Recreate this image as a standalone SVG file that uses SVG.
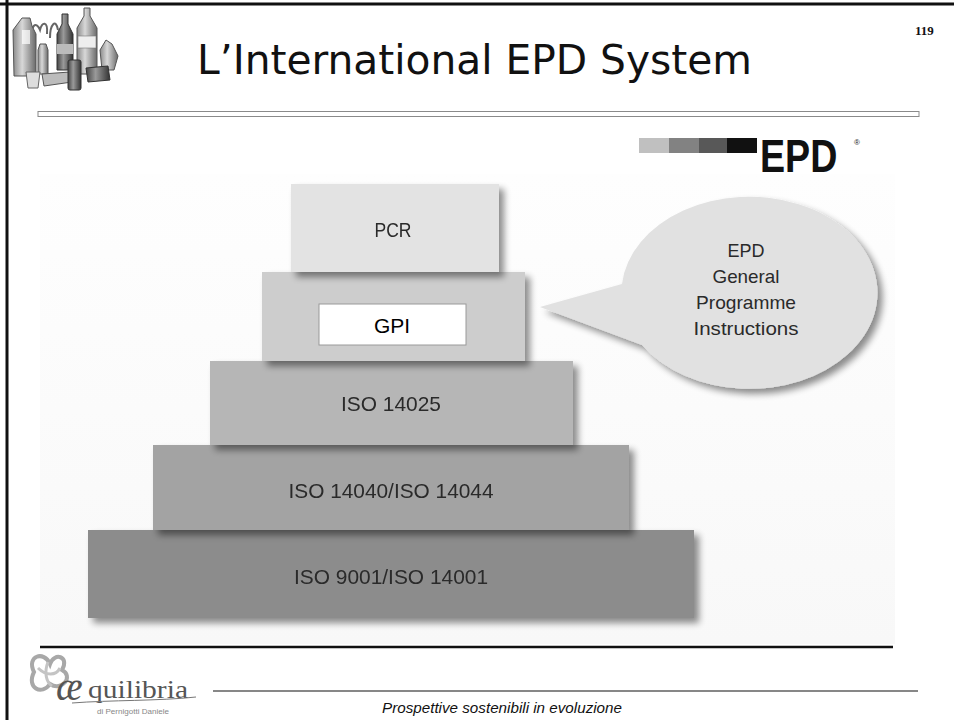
<svg xmlns="http://www.w3.org/2000/svg" width="954" height="720" viewBox="0 0 954 720">
  <defs>
    <style>
      .title { font-family: "DejaVu Sans", Verdana, sans-serif; font-size: 40px; fill: #111; }
      .lbl { font-family: "Liberation Sans Narrow", "Liberation Sans", Arial, sans-serif; font-size: 21px; fill: #2a2a2a; text-anchor: middle; }
      .bub { font-family: "Liberation Sans Narrow", "Liberation Sans", Arial, sans-serif; font-size: 19px; fill: #2a2a2a; text-anchor: middle; }
      .gpi { font-family: "Liberation Sans", Arial, sans-serif; font-size: 21px; fill: #000; text-anchor: middle; }
      .foot { font-family: "Liberation Sans", Arial, sans-serif; font-size: 15px; font-style: italic; fill: #111; }
      .block { stroke: none; }
    </style>
    <filter id="shadow" x="-10%" y="-10%" width="125%" height="130%">
      <feGaussianBlur in="SourceAlpha" stdDeviation="3.5"/>
      <feOffset dx="5" dy="5" result="b"/>
      <feComponentTransfer><feFuncA type="linear" slope="0.45"/></feComponentTransfer>
      <feMerge><feMergeNode/><feMergeNode in="SourceGraphic"/></feMerge>
    </filter>
    <linearGradient id="panel" x1="0" y1="0" x2="0" y2="1">
      <stop offset="0" stop-color="#fefefe"/>
      <stop offset="1" stop-color="#f8f8f8"/>
    </linearGradient>
    <linearGradient id="bottle" x1="0" y1="0" x2="1" y2="0">
      <stop offset="0" stop-color="#8a8a8a"/>
      <stop offset="0.4" stop-color="#d8d8d8"/>
      <stop offset="1" stop-color="#6a6a6a"/>
    </linearGradient>
    <linearGradient id="dark" x1="0" y1="0" x2="1" y2="0">
      <stop offset="0" stop-color="#444"/>
      <stop offset="0.4" stop-color="#9a9a9a"/>
      <stop offset="1" stop-color="#333"/>
    </linearGradient>
  </defs>

  <rect width="954" height="720" fill="#fff"/>

  <!-- page frame: top and left rules -->
  <line x1="0" y1="4" x2="954" y2="4" stroke="#111" stroke-width="3"/>
  <line x1="7" y1="0" x2="7" y2="720" stroke="#111" stroke-width="3"/>

  <!-- header clip-art: packaging waste -->
  <g id="clipart">
    <!-- plastic bag handles -->
    <path d="M32,40 C30,26 36,20 40,30 C42,22 48,20 47,34 M50,38 C50,24 56,18 58,30" fill="none" stroke="#666" stroke-width="2"/>
    <!-- detergent jug -->
    <path d="M13,30 L22,18 L30,18 L32,26 L36,34 L36,76 L14,76 Z" fill="url(#bottle)" stroke="#555" stroke-width="1"/>
    <path d="M22,30 L30,30 L30,44 L22,44 Z" fill="#fff" opacity="0.7"/>
    <!-- small bottle -->
    <path d="M38,50 L40,44 L46,44 L48,50 L48,74 L38,74 Z" fill="url(#bottle)" stroke="#555" stroke-width="1"/>
    <!-- tall dark bottle -->
    <path d="M62,14 L68,14 L68,24 L73,34 L73,70 L57,70 L57,34 L62,24 Z" fill="url(#dark)" stroke="#333" stroke-width="1"/>
    <rect x="57" y="44" width="16" height="10" fill="#bbb"/>
    <!-- large water bottle -->
    <path d="M84,8 L90,8 L90,16 L97,28 L97,74 L77,74 L77,28 L84,16 Z" fill="url(#bottle)" stroke="#555" stroke-width="1"/>
    <rect x="78" y="36" width="18" height="12" fill="#eee" stroke="#777" stroke-width="0.6"/>
    <!-- crushed bottle -->
    <path d="M100,50 L106,40 L112,44 L118,56 L114,70 L102,70 Z" fill="url(#bottle)" stroke="#555" stroke-width="1"/>
    <!-- cup -->
    <path d="M26,72 L40,72 L38,88 L28,88 Z" fill="#ddd" stroke="#666" stroke-width="1"/>
    <!-- food tray -->
    <path d="M42,74 L70,72 L72,82 L44,86 Z" fill="#bcbcbc" stroke="#555" stroke-width="1"/>
    <!-- drink can -->
    <rect x="68" y="60" width="13" height="30" rx="2" fill="url(#dark)" stroke="#333" stroke-width="1"/>
    <!-- tin can -->
    <path d="M86,68 L108,66 L110,80 L88,82 Z" fill="url(#dark)" stroke="#333" stroke-width="1"/>
  </g>

  <!-- title -->
  <text class="title" x="197" y="74" textLength="555" lengthAdjust="spacingAndGlyphs">L’International EPD System</text>
  <text x="915" y="35" font-family="'Liberation Serif', 'Times New Roman', serif" font-size="13" font-weight="bold" fill="#111">119</text>

  <!-- hollow separator bar -->
  <rect x="38" y="111.5" width="881" height="5" fill="#fff" stroke="#8a8a8a" stroke-width="1"/>

  <!-- EPD logo -->
  <g id="epd-logo">
    <rect x="639" y="138" width="30" height="15" fill="#c0c0c0"/>
    <rect x="669" y="138" width="30" height="15" fill="#828282"/>
    <rect x="699" y="138" width="28" height="15" fill="#585858"/>
    <rect x="727" y="138" width="30" height="15" fill="#111"/>
    <text transform="translate(760,172) scale(0.8,1)" font-family="'Liberation Sans', Arial, sans-serif" font-weight="bold" font-size="47" fill="#111">EPD</text>
    <text x="854" y="145" font-family="'Liberation Sans', Arial, sans-serif" font-size="8" fill="#222">®</text>
  </g>

  <!-- diagram backdrop -->
  <rect x="40" y="174" width="855" height="470" fill="url(#panel)"/>

  <!-- pyramid, base first so upper shadows fall on lower tiers -->
  <g id="iso-9001-14001" filter="url(#shadow)">
    <rect class="block" x="88" y="530" width="606" height="88" fill="#8c8c8c"/>
    <text class="lbl" x="391" y="584" textLength="194" lengthAdjust="spacingAndGlyphs">ISO 9001/ISO 14001</text>
  </g>
  <g id="iso-14040-14044" filter="url(#shadow)">
    <rect class="block" x="153" y="445" width="476" height="85" fill="#a3a3a3"/>
    <text class="lbl" x="391" y="498" textLength="205" lengthAdjust="spacingAndGlyphs">ISO 14040/ISO 14044</text>
  </g>
  <g id="iso-14025" filter="url(#shadow)">
    <rect class="block" x="210" y="361" width="363" height="84" fill="#b6b6b6"/>
    <text class="lbl" x="391" y="411" textLength="100" lengthAdjust="spacingAndGlyphs">ISO 14025</text>
  </g>
  <g id="gpi" filter="url(#shadow)">
    <rect class="block" x="262" y="272" width="263" height="89" fill="#cdcdcd"/>
  </g>
  <g id="gpi-label">
    <rect x="319" y="304" width="147" height="41" fill="#fff" stroke="#9a9a9a" stroke-width="1"/>
    <text class="gpi" x="392" y="333">GPI</text>
  </g>
  <g id="pcr" filter="url(#shadow)">
    <rect class="block" x="291" y="184" width="208" height="88" fill="#e3e3e3"/>
    <text class="lbl" x="393" y="237" textLength="37" lengthAdjust="spacingAndGlyphs">PCR</text>
  </g>

  <!-- speech bubble pointing at the GPI tier -->
  <g id="bubble">
    <g filter="url(#shadow)">
      <path d="M540,307 L622,284 A128,96 0 1 1 642,345 Z" fill="#e1e1e1"/>
    </g>
    <text class="bub" x="746" y="257" textLength="37" lengthAdjust="spacingAndGlyphs">EPD</text>
    <text class="bub" x="746" y="283" textLength="67" lengthAdjust="spacingAndGlyphs">General</text>
    <text class="bub" x="746" y="309" textLength="100" lengthAdjust="spacingAndGlyphs">Programme</text>
    <text class="bub" x="746" y="335" textLength="105" lengthAdjust="spacingAndGlyphs">Instructions</text>
  </g>

  <!-- footer -->
  <line x1="40" y1="647" x2="893" y2="647" stroke="#111" stroke-width="2.5"/>
  <line x1="213" y1="691" x2="918" y2="691" stroke="#111" stroke-width="1.2"/>
  <text class="foot" x="382" y="713" textLength="240" lengthAdjust="spacingAndGlyphs">Prospettive sostenibili in evoluzione</text>

  <!-- Equilibria logo -->
  <g id="equilibria-logo">
    <path d="M34,672 C26,656 44,650 50,664 C54,652 70,656 62,670 C74,676 62,692 50,684 C42,696 26,688 34,672 Z" fill="none" stroke="#a8a8a8" stroke-width="4"/>
    <path d="M38,668 C46,676 56,676 60,668 M48,662 C44,672 46,682 52,686" fill="none" stroke="#c4c4c4" stroke-width="3"/>
    <text x="56" y="700" font-family="'Liberation Serif', 'Times New Roman', serif" font-style="italic" font-size="40" fill="#555">æ</text>
    <text x="88" y="698" font-family="'Liberation Serif', 'Times New Roman', serif" font-size="26" fill="#555" textLength="100" lengthAdjust="spacingAndGlyphs">quilibria</text>
    <path d="M72,703 C110,700 160,701 196,697" fill="none" stroke="#777" stroke-width="1"/>
    <text x="97" y="714" font-family="'Liberation Sans', Arial, sans-serif" font-size="7.5" fill="#888" textLength="72" lengthAdjust="spacingAndGlyphs">di Pernigotti Daniele</text>
  </g>
</svg>
